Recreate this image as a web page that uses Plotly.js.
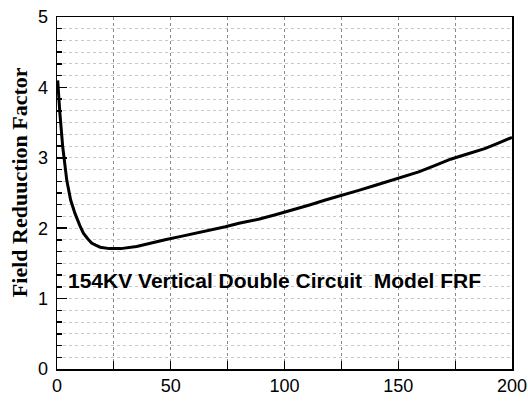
<!DOCTYPE html>
<html>
<head>
<meta charset="utf-8">
<script src="https://cdn.plot.ly/plotly-3.0.1.min.js"></script>
<style>html,body{margin:0;padding:0;background:#fff;}#chart{width:528px;height:409px;}</style>
</head>
<body>
<div id="chart"></div>
<script>
const distance = [0.3, 0.7, 1.3, 2.5, 4.3, 6, 7.9, 10, 11.6, 13.5, 15.2, 17, 19, 23, 28, 35, 41, 48, 54, 60, 67, 74, 80, 89, 96, 104, 111, 118, 126, 133, 140, 146, 152, 159, 166, 173, 180, 188, 194, 200];
const frf = [4.1, 3.85, 3.62, 3.16, 2.68, 2.40, 2.21, 2.04, 1.93, 1.85, 1.79, 1.76, 1.73, 1.71, 1.71, 1.74, 1.79, 1.84, 1.88, 1.92, 1.97, 2.02, 2.07, 2.13, 2.19, 2.26, 2.33, 2.40, 2.47, 2.54, 2.61, 2.67, 2.73, 2.80, 2.89, 2.98, 3.05, 3.13, 3.21, 3.29];
const xTicks = [0, 50, 100, 150, 200];
const yTicks = [0, 1, 2, 3, 4, 5];
const yTitle = "Field Reduuction Factor";
const label = "154KV Vertical Double Circuit&nbsp;&nbsp;Model FRF";

const trace = {
  x: distance, y: frf, type: 'scatter', mode: 'lines',
  line: {color: '#000', width: 3}, hoverinfo: 'skip'
};

const layout = {
  width: 528, height: 409,
  margin: {l: 57, r: 16, t: 17, b: 40},
  paper_bgcolor: '#fff', plot_bgcolor: '#fff',
  showlegend: false,
  font: {family: 'Liberation Sans, Arial, sans-serif', color: '#000', size: 18},
  xaxis: {
    range: [0, 200], tickvals: xTicks, ticktext: xTicks.map(String),
    ticks: 'inside', ticklen: 8, tickcolor: '#000', tickwidth: 1,
    showline: true, linecolor: '#000', linewidth: 1.5, mirror: true,
    showgrid: true, gridcolor: '#888', griddash: 'dot', gridwidth: 1,
    minor: {dtick: 25, tick0: 0, ticks: 'inside', ticklen: 8, tickcolor: '#000', showgrid: true, gridcolor: '#888', griddash: 'dot'},
    zeroline: false, fixedrange: true,
    tickfont: {size: 18, family: 'Liberation Sans, Arial, sans-serif'}
  },
  yaxis: {
    range: [0, 5], tickvals: yTicks, ticktext: yTicks.map(String),
    ticks: 'inside', ticklen: 10, tickcolor: '#000', tickwidth: 1.5,
    showline: true, linecolor: '#000', linewidth: 1.5, mirror: true,
    showgrid: true, gridcolor: '#c8c8c8', griddash: 'dot', gridwidth: 1,
    minor: {dtick: 1/6, tick0: 0, ticks: 'inside', ticklen: 5, tickcolor: '#000', showgrid: true, gridcolor: '#c8c8c8', griddash: 'dot'},
    zeroline: false, fixedrange: true, ticklabelstandoff: 4,
    tickfont: {size: 18, family: 'Liberation Sans, Arial, sans-serif'}
  },
  annotations: [
    {text: yTitle, xref: 'paper', yref: 'paper', x: -0.082, y: 0.53, xanchor: 'center', yanchor: 'middle',
     textangle: -90, showarrow: false,
     font: {family: 'Liberation Serif, Times New Roman, serif', size: 22, color: '#000', weight: 'bold'}},
    {text: label, xref: 'x', yref: 'y', x: 95.8, y: 1.26, xanchor: 'center', yanchor: 'middle', showarrow: false,
     font: {family: 'Liberation Sans, Arial, sans-serif', size: 21, color: '#000', weight: 'bold'}}
  ]
};

Plotly.newPlot('chart', [trace], layout, {staticPlot: true, displayModeBar: false});
</script>
</body>
</html>
